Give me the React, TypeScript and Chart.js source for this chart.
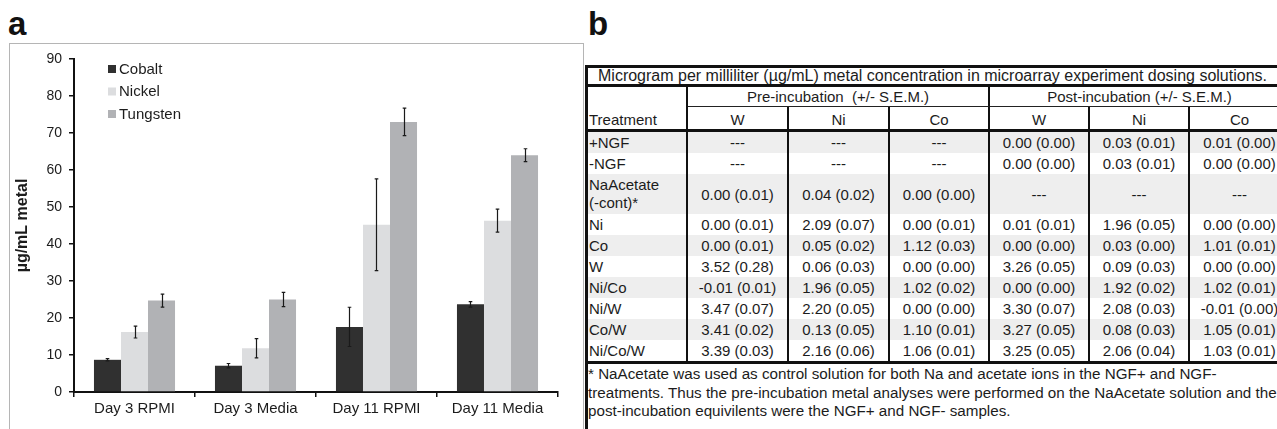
import React, { useEffect, useRef } from 'react';
import { Chart, registerables } from 'chart.js';

Chart.register(...registerables);

// ---------- Panel a data ----------
const categories = ['Day 3 RPMI', 'Day 3 Media', 'Day 11 RPMI', 'Day 11 Media'];
const seriesNames = ['Cobalt', 'Nickel', 'Tungsten'];
const cobalt = [8.7, 7.1, 17.6, 23.7];
const cobaltErr = [0.3, 0.6, 5.3, 0.75];
const nickel = [16.2, 11.8, 45.2, 46.3];
const nickelErr = [1.6, 2.6, 12.4, 3.1];
const tungsten = [24.7, 25.0, 73.0, 64.0];
const tungstenErr = [1.75, 1.9, 3.7, 1.75];
const yTicksMax = 90;
const yStep = 10;

// ---------- Panel b data ----------
const tableTitle = 'Microgram per milliliter (µg/mL) metal concentration in microarray experiment dosing solutions.';
const groupHeaders = ['Pre-incubation  (+/- S.E.M.)', 'Post-incubation (+/- S.E.M.)'];
const metalHeaders = ['W', 'Ni', 'Co', 'W', 'Ni', 'Co'];
const treatments = ['+NGF', '-NGF', 'NaAcetate\n(-cont)*', 'Ni', 'Co', 'W', 'Ni/Co', 'Ni/W', 'Co/W', 'Ni/Co/W'];
const preW = ['---', '---', '0.00 (0.01)', '0.00 (0.01)', '0.00 (0.01)', '3.52 (0.28)', '-0.01 (0.01)', '3.47 (0.07)', '3.41 (0.02)', '3.39 (0.03)'];
const preNi = ['---', '---', '0.04 (0.02)', '2.09 (0.07)', '0.05 (0.02)', '0.06 (0.03)', '1.96 (0.05)', '2.20 (0.05)', '0.13 (0.05)', '2.16 (0.06)'];
const preCo = ['---', '---', '0.00 (0.00)', '0.00 (0.01)', '1.12 (0.03)', '0.00 (0.00)', '1.02 (0.02)', '0.00 (0.00)', '1.10 (0.01)', '1.06 (0.01)'];
const postW = ['0.00 (0.00)', '0.00 (0.00)', '---', '0.01 (0.01)', '0.00 (0.00)', '3.26 (0.05)', '0.00 (0.00)', '3.30 (0.07)', '3.27 (0.05)', '3.25 (0.05)'];
const postNi = ['0.03 (0.01)', '0.03 (0.01)', '---', '1.96 (0.05)', '0.03 (0.00)', '0.09 (0.03)', '1.92 (0.02)', '2.08 (0.03)', '0.08 (0.03)', '2.06 (0.04)'];
const postCo = ['0.01 (0.00)', '0.00 (0.00)', '---', '0.00 (0.00)', '1.01 (0.01)', '0.00 (0.00)', '1.02 (0.01)', '-0.01 (0.00)', '1.05 (0.01)', '1.03 (0.01)'];
const footnoteLines = [
  '* NaAcetate was used as control solution for both Na and acetate ions in the NGF+ and NGF-',
  'treatments. Thus the pre-incubation metal analyses were performed on the NaAcetate solution and the',
  'post-incubation equivilents were the NGF+ and NGF- samples.',
];

const FONT = "'Liberation Sans', Arial, Helvetica, sans-serif";
const TEXT = '#1c1c1c';
const COLORS = ['#303030', '#dcdddf', '#b1b2b5'];

function BarChart() {
  const ref = useRef<HTMLCanvasElement | null>(null);
  useEffect(() => {
    if (!ref.current) return;
    const errs = [cobaltErr, nickelErr, tungstenErr];
    const errorBars = {
      id: 'errorBars',
      afterDatasetsDraw(chart: any) {
        const ctx = chart.ctx;
        const y = chart.scales.y;
        ctx.save();
        ctx.strokeStyle = '#1a1a1a';
        ctx.lineWidth = 1.2;
        chart.data.datasets.forEach((ds: any, i: number) => {
          const meta = chart.getDatasetMeta(i);
          meta.data.forEach((bar: any, j: number) => {
            const v = ds.data[j];
            const e = errs[i][j];
            const x = Math.round(bar.x) + 0.5;
            const yt = y.getPixelForValue(v + e);
            const yb = y.getPixelForValue(v - e);
            ctx.beginPath();
            ctx.moveTo(x, yt);
            ctx.lineTo(x, yb);
            ctx.moveTo(x - 1.8, yt);
            ctx.lineTo(x + 1.8, yt);
            ctx.moveTo(x - 1.8, yb);
            ctx.lineTo(x + 1.8, yb);
            ctx.stroke();
          });
        });
        ctx.restore();
      },
    };
    const legendPlugin = {
      id: 'insideLegend',
      afterDraw(chart: any) {
        const ctx = chart.ctx;
        const left = chart.chartArea.left + 34;
        const top = chart.chartArea.top + 10;
        ctx.save();
        ctx.font = `15px ${FONT}`;
        ctx.textBaseline = 'middle';
        chart.data.datasets.forEach((ds: any, i: number) => {
          const cy = top + i * 22.5;
          ctx.fillStyle = ds.backgroundColor;
          ctx.fillRect(left, cy - 4, 8, 8);
          ctx.fillStyle = TEXT;
          ctx.fillText(ds.label, left + 11, cy + 0.5);
        });
        ctx.restore();
      },
    };
    const chart = new Chart(ref.current, {
      type: 'bar',
      data: {
        labels: categories,
        datasets: [
          { label: seriesNames[0], data: cobalt, backgroundColor: COLORS[0] },
          { label: seriesNames[1], data: nickel, backgroundColor: COLORS[1] },
          { label: seriesNames[2], data: tungsten, backgroundColor: COLORS[2] },
        ],
      },
      options: {
        animation: false,
        responsive: false,
        devicePixelRatio: 1,
        layout: { padding: { left: 0, top: 16, right: 26, bottom: 7 } },
        datasets: { bar: { categoryPercentage: 0.67, barPercentage: 1.0 } } as any,
        plugins: { legend: { display: false }, tooltip: { enabled: false } },
        scales: {
          x: {
            grid: { display: true, drawOnChartArea: false, offset: true, tickLength: 5, color: '#111', lineWidth: 1.5 },
            border: { display: true, color: '#111', width: 2 },
            ticks: { color: TEXT, font: { family: FONT, size: 15 }, padding: 3, maxRotation: 0 },
            afterFit: (s: any) => { s.height = 30; },
          },
          y: {
            min: 0,
            max: yTicksMax,
            ticks: { stepSize: yStep, color: TEXT, font: { family: FONT, size: 14 }, padding: 7 },
            grid: { display: true, drawOnChartArea: false, tickLength: 5, color: '#111', lineWidth: 1.5 },
            border: { display: true, color: '#111', width: 2 },
            title: {
              display: true,
              text: 'µg/mL metal',
              color: TEXT,
              font: { family: FONT, size: 16, weight: 'bold' },
              padding: { top: 4, bottom: 0 },
            },
            afterFit: (s: any) => { s.width = 65; },
          },
        },
      } as any,
      plugins: [errorBars, legendPlugin],
    });
    return () => chart.destroy();
  }, []);
  return (
    <canvas
      ref={ref}
      width={575}
      height={386}
      style={{ position: 'absolute', left: 9, top: 43, width: 575, height: 386 }}
    />
  );
}

const thick = '3px solid #111';
const vline = '2px solid #111';

function DataTable() {
  const cols = [preW, preNi, preCo, postW, postNi, postCo];
  const cell: React.CSSProperties = { padding: 0, textAlign: 'center', whiteSpace: 'nowrap', borderRight: vline };
  return (
    <table
      style={{
        position: 'absolute',
        left: 585,
        top: 65,
        borderCollapse: 'separate',
        borderSpacing: 0,
        tableLayout: 'fixed',
        width: 706,
        borderLeft: thick,
        borderTop: thick,
        fontFamily: FONT,
        fontSize: 15,
        color: TEXT,
      }}
    >
      <colgroup>
        <col style={{ width: 100 }} />
        <col style={{ width: 101 }} />
        <col style={{ width: 101 }} />
        <col style={{ width: 100 }} />
        <col style={{ width: 100 }} />
        <col style={{ width: 100 }} />
        <col style={{ width: 101 }} />
      </colgroup>
      <tbody>
        <tr style={{ height: 18 }}>
          <td colSpan={7} style={{ padding: 0, textAlign: 'left', paddingLeft: 10, borderBottom: thick, lineHeight: '16px', fontSize: 16, whiteSpace: 'nowrap' }}>
            {tableTitle}
          </td>
        </tr>
        <tr style={{ height: 20 }}>
          <td rowSpan={2} style={{ ...cell, textAlign: 'left', verticalAlign: 'bottom', borderBottom: thick, paddingBottom: 1, paddingLeft: 1 }}>Treatment</td>
          <td colSpan={3} style={{ ...cell, borderBottom: '1.5px solid #222', whiteSpace: 'pre' }}>{groupHeaders[0]}</td>
          <td colSpan={3} style={{ ...cell, borderBottom: '1.5px solid #222', whiteSpace: 'pre' }}>{groupHeaders[1]}</td>
        </tr>
        <tr style={{ height: 25 }}>
          {metalHeaders.map((m, i) => (
            <td key={i} style={{ ...cell, borderBottom: thick, verticalAlign: 'bottom', paddingBottom: 1 }}>{m}</td>
          ))}
        </tr>
        {treatments.map((t, r) => {
          const bg = r % 2 === 0 ? '#eeeeee' : '#ffffff';
          const twoLine = t.includes('\n');
          return (
            <tr key={r} style={{ height: twoLine ? 40 : 21, background: bg }}>
              <td style={{ ...cell, textAlign: 'left', paddingLeft: 1, whiteSpace: 'pre', lineHeight: twoLine ? '18px' : '21px' }}>{t}</td>
              {cols.map((c, k) => (
                <td key={k} style={{ ...cell }}>{c[r]}</td>
              ))}
            </tr>
          );
        })}
        <tr>
          <td colSpan={7} style={{ padding: 0, paddingTop: 1, borderTop: thick, textAlign: 'left', verticalAlign: 'top', height: 70, lineHeight: '18.5px', fontSize: 15.2, whiteSpace: 'nowrap' }}>
            {footnoteLines.map((l, i) => (
              <div key={i}>{l}</div>
            ))}
          </td>
        </tr>
      </tbody>
    </table>
  );
}

export default function App() {
  return (
    <div style={{ position: 'fixed', left: 0, top: 0, width: 1277, height: 429, overflow: 'hidden', background: '#fff', fontFamily: FONT }}>
      <div style={{ position: 'absolute', left: 8, top: 7, fontSize: 33, fontWeight: 'bold', lineHeight: '33px', color: '#111' }}>a</div>
      <div style={{ position: 'absolute', left: 588, top: 7, fontSize: 33, fontWeight: 'bold', lineHeight: '33px', color: '#111' }}>b</div>
      <div style={{ position: 'absolute', left: 9, top: 43, width: 575, height: 400, border: '1px solid #b5b5b5', boxSizing: 'border-box' }} />
      <BarChart />
      <DataTable />
    </div>
  );
}
